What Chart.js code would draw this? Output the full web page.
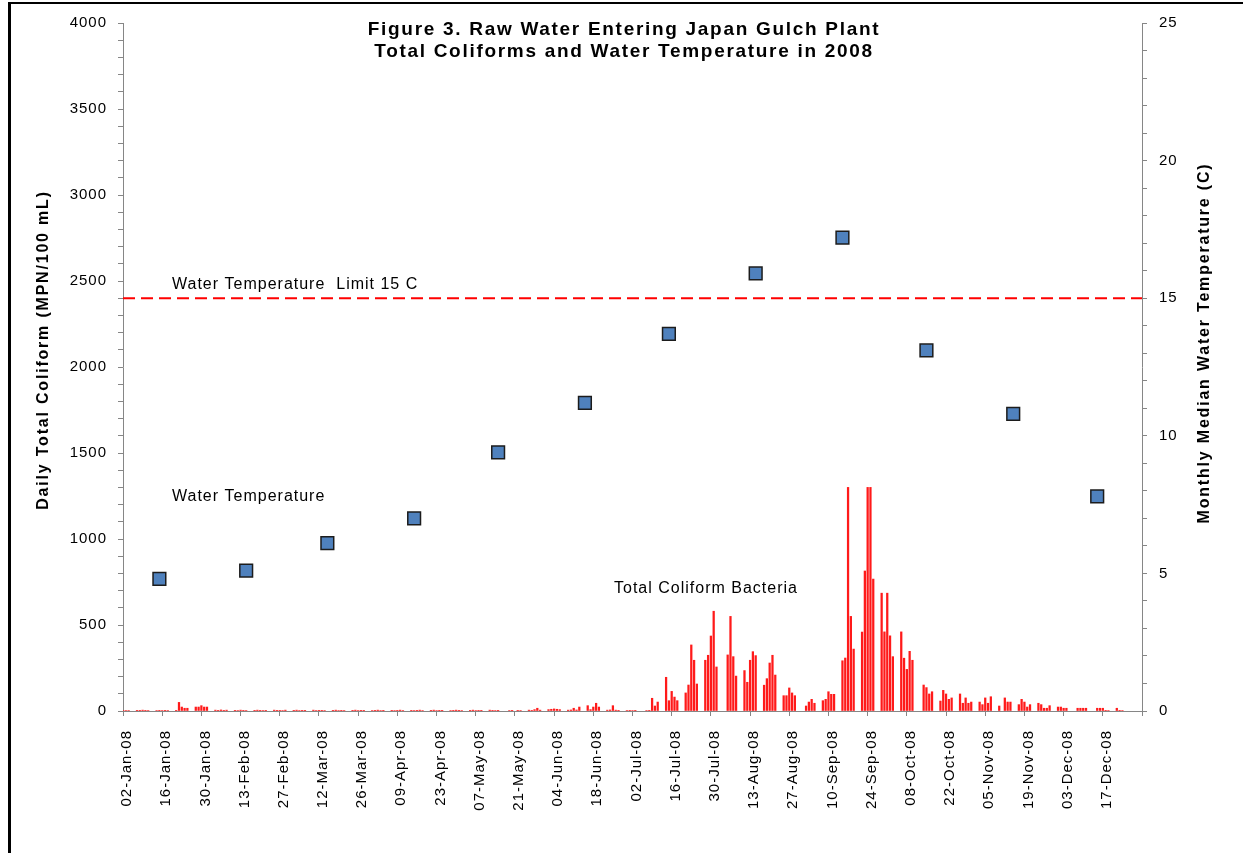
<!DOCTYPE html>
<html>
<head>
<meta charset="utf-8">
<title>Figure 3. Raw Water Entering Japan Gulch Plant</title>
<script src="https://cdn.jsdelivr.net/npm/chart.js@4.4.1/dist/chart.umd.min.js"></script>
<style>
  html, body { margin: 0; padding: 0; background: #fff; }
  #chart { display: block; }
</style>
</head>
<body>
<canvas id="chart" width="1243" height="853"></canvas>
<script>
const startDate = '2008-01-02';
const monthNames = ['Jan', 'Feb', 'Mar', 'Apr', 'May', 'Jun', 'Jul', 'Aug', 'Sep', 'Oct', 'Nov', 'Dec'];

// daily total coliform (MPN/100 mL), one row per week starting Wed 02-Jan-08, null = no sample
const coliform = [
    2, 3, 3, null, null, 4, 4,
    5, 4, 3, null, null, 3, 4,
    3, 4, 3, null, null, 4, 50,
    23, 16, 16, null, null, 23, 23,
    31, 23, 23, null, null, 5, 4,
    6, 4, 5, null, null, 4, 3,
    5, 4, 3, null, null, 4, 5,
    4, 3, 4, null, null, 5, 4,
    4, 3, 5, null, null, 4, 5,
    3, 4, 4, null, null, 5, 3,
    4, 4, 3, null, null, 4, 5,
    3, 4, 3, null, null, 4, 5,
    3, 4, 4, null, null, 3, 4,
    5, 3, 4, null, null, 4, 3,
    4, 5, 3, null, null, 4, 3,
    4, 5, 3, null, null, 4, 5,
    3, 4, 4, null, null, 3, 4,
    5, 4, 3, null, null, 4, 5,
    3, 4, 4, null, null, 5, 4,
    3, 4, null, null, null, 3, 4,
    null, 4, 3, null, null, 5, 4,
    8, 16, 5, null, null, 8, 10,
    12, 10, 8, null, null, 5, 6,
    16, 6, 23, null, null, 31, 8,
    23, 45, 23, null, null, 5, 6,
    31, 5, 4, null, null, 3, 4,
    3, 4, null, null, null, 3, 4,
    74, 29, 52, null, null, 196, 60,
    114, 81, 60, null, null, 105, 151,
    384, 295, 157, null, null, 295, 324,
    436, 580, 256, null, null, null, 326,
    550, 316, 203, null, null, 235, 167,
    295, 345, 322, null, null, 150, 188,
    279, 324, 209, null, null, 89, 89,
    134, 105, 89, null, null, null, 29,
    52, 68, 45, null, null, 60, 68,
    112, 97, 97, null, null, 292, 308,
    1300, 550, 360, null, null, 459, 814,
    1300, 1300, 767, null, null, 685, 460,
    685, 437, 316, null, null, 460, 307,
    242, 347, 295, null, null, null, 151,
    136, 99, 112, null, null, 58, 120,
    99, 68, 76, null, null, 99, 45,
    76, 45, 52, null, null, 52, 37,
    76, 45, 83, null, null, 29, null,
    76, 52, 52, null, null, 37, 68,
    52, 23, 37, null, null, 45, 37,
    16, 16, 31, null, null, 23, 23,
    16, 16, null, null, null, 16, 16,
    16, 16, null, null, null, 16, 16,
    16, 4, 3, null, null, 16, 4,
    3, null, null, null, null, null, null,
    null
];

// monthly median water temperature (C)
const tempDates = ['2008-01-15', '2008-02-15', '2008-03-15', '2008-04-15', '2008-05-15', '2008-06-15',
    '2008-07-15', '2008-08-15', '2008-09-15', '2008-10-15', '2008-11-15', '2008-12-15'];
const tempValues = [4.8, 5.1, 6.1, 7.0, 9.4, 11.2, 13.7, 15.9, 17.2, 13.1, 10.8, 7.8];

const tempLimit = 15;
const titleLines = ['Figure 3. Raw Water Entering Japan Gulch Plant', 'Total Coliforms and Water Temperature in 2008'];
const leftTitle = 'Daily Total Coliform (MPN/100 mL)';
const rightTitle = 'Monthly Median Water Temperature (C)';

const FONT = '"Liberation Sans", Arial, sans-serif';
const axisGray = '#868686';
const lastDay = coliform.length - 1;

function dayIndex(str) {
    const [y, m, d] = str.split('-').map(Number);
    const [y0, m0, d0] = startDate.split('-').map(Number);
    return Math.round((Date.UTC(y, m - 1, d) - Date.UTC(y0, m0 - 1, d0)) / 86400000);
}

function dayLabel(i) {
    const [y0, m0, d0] = startDate.split('-').map(Number);
    const d = new Date(Date.UTC(y0, m0 - 1, d0 + i));
    const dd = String(d.getUTCDate()).padStart(2, '0');
    return dd + '-' + monthNames[d.getUTCMonth()] + '-' + String(d.getUTCFullYear()).slice(2);
}

const barPoints = [];
coliform.forEach((v, i) => {
    if (v !== null) barPoints.push({ x: i, y: v });
});
const tempPoints = tempDates.map((d, i) => ({ x: dayIndex(d), y: tempValues[i] }));
const limitPoints = [{ x: 0, y: tempLimit }, { x: lastDay, y: tempLimit }];

// titles, notes and frame drawn on top
const textPlugin = {
    id: 'textPlugin',
    beforeDraw(chart) {
        chart.ctx.letterSpacing = '1px';
    },
    afterDraw(chart) {
        const ctx = chart.ctx;
        ctx.save();
        ctx.fillStyle = '#000';
        ctx.fillRect(8, 2, 3, 853);
        ctx.fillRect(8, 2, 1243, 2);

        ctx.textBaseline = 'middle';
        ctx.letterSpacing = '1.7px';
        ctx.font = 'bold 19px ' + FONT;
        ctx.textAlign = 'center';
        ctx.fillText(titleLines[0], 624, 30);
        ctx.fillText(titleLines[1], 624, 52);

        ctx.letterSpacing = '1px';
        ctx.font = '16px ' + FONT;
        ctx.textAlign = 'left';
        ctx.fillText('Water Temperature  Limit 15 C', 172, 285);
        ctx.fillText('Water Temperature', 172, 497);
        ctx.fillText('Total Coliform Bacteria', 614, 589);

        ctx.font = 'bold 16px ' + FONT;
        ctx.letterSpacing = '1.8px';
        ctx.textAlign = 'center';
        ctx.save();
        ctx.translate(44, 350);
        ctx.rotate(-Math.PI / 2);
        ctx.fillText(leftTitle, 0, 0);
        ctx.restore();
        ctx.save();
        ctx.translate(1205, 343);
        ctx.rotate(-Math.PI / 2);
        ctx.fillText(rightTitle, 0, 0);
        ctx.restore();
        ctx.restore();
    }
};

const ctx = document.getElementById('chart').getContext('2d');

new Chart(ctx, {
    type: 'bar',
    data: {
        datasets: [
            {
                type: 'line',
                label: 'Water Temperature Limit 15 C',
                data: limitPoints,
                yAxisID: 'y1',
                borderColor: '#FF0000',
                borderWidth: 2,
                borderDash: [12, 6],
                pointRadius: 0,
                fill: false,
                order: 0,
            },
            {
                type: 'line',
                label: 'Water Temperature',
                data: tempPoints,
                yAxisID: 'y1',
                showLine: false,
                pointStyle: 'rect',
                pointRadius: 9,
                pointBackgroundColor: '#4F81BD',
                pointBorderColor: '#1C1C1C',
                pointBorderWidth: 1.5,
                order: 1,
            },
            {
                type: 'bar',
                label: 'Total Coliform Bacteria',
                data: barPoints,
                yAxisID: 'y',
                backgroundColor: '#FF1A1A',
                borderWidth: 0,
                barThickness: 1.6,
                order: 2,
            },
        ],
    },
    options: {
        responsive: false,
        animation: false,
        devicePixelRatio: 1,
        layout: { padding: { top: 23, left: 0, right: 0, bottom: 0 } },
        plugins: {
            legend: { display: false },
            tooltip: { enabled: false },
            title: { display: false },
        },
        scales: {
            x: {
                type: 'linear',
                min: 0,
                max: lastDay,
                offset: false,
                afterFit(scale) { scale.height = 142; },
                grid: { drawOnChartArea: false, offset: false, color: axisGray, tickLength: 5 },
                border: { color: axisGray, width: 1 },
                ticks: {
                    stepSize: 14,
                    autoSkip: false,
                    minRotation: 90,
                    maxRotation: 90,
                    padding: 14,
                    labelOffset: 4,
                    color: '#000',
                    font: { family: FONT, size: 15 },
                    callback: v => (v % 14 === 0 && v < lastDay) ? dayLabel(v) : '',
                },
            },
            y: {
                position: 'left',
                min: 0,
                max: 4000,
                afterFit(scale) { scale.width = 123; },
                grid: { drawOnChartArea: false, color: axisGray, tickLength: 5 },
                border: { color: axisGray, width: 1 },
                ticks: {
                    stepSize: 100,
                    autoSkip: false,
                    padding: 11,
                    color: '#000',
                    font: { family: FONT, size: 15 },
                    callback: v => v % 500 === 0 ? String(v) : '',
                },
            },
            y1: {
                position: 'right',
                min: 0,
                max: 25,
                afterFit(scale) { scale.width = 101; },
                grid: { drawOnChartArea: false, color: axisGray, tickLength: 5 },
                border: { color: axisGray, width: 1 },
                ticks: {
                    stepSize: 1,
                    autoSkip: false,
                    padding: 12,
                    color: '#000',
                    font: { family: FONT, size: 15 },
                    callback: v => v % 5 === 0 ? String(v) : '',
                },
            },
        },
    },
    plugins: [textPlugin],
});
</script>
</body>
</html>
